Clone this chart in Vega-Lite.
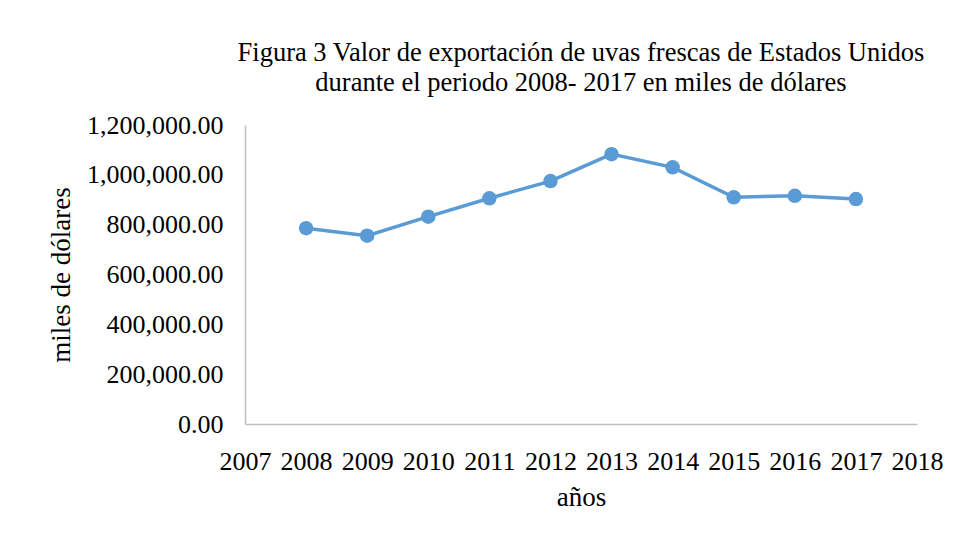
{
  "$schema": "https://vega.github.io/schema/vega-lite/v6.json",
  "width": 672,
  "height": 299,
  "autosize": {"type": "none"},
  "padding": {"left": 245, "top": 125, "right": 42, "bottom": 112},
  "background": "white",
  "title": {
    "text": ["Figura 3 Valor de exportación de uvas frescas de Estados Unidos", "durante el periodo 2008- 2017 en miles de dólares"],
    "font": "Liberation Serif",
    "fontSize": 26.5,
    "fontWeight": "normal",
    "color": "#000000",
    "anchor": "middle",
    "offset": 16,
    "lineHeight": 30
  },
  "data": {
    "values": [
      {"anio": 2008, "valor": 786000},
      {"anio": 2009, "valor": 756000},
      {"anio": 2010, "valor": 832000},
      {"anio": 2011, "valor": 906000},
      {"anio": 2012, "valor": 975000},
      {"anio": 2013, "valor": 1083000},
      {"anio": 2014, "valor": 1030000},
      {"anio": 2015, "valor": 910000},
      {"anio": 2016, "valor": 916000},
      {"anio": 2017, "valor": 903000}
    ]
  },
  "mark": {"type": "line", "color": "#5b9bd5", "strokeWidth": 3.5, "point": {"filled": true, "size": 210, "color": "#5b9bd5", "opacity": 1}},
  "encoding": {
    "x": {
      "field": "anio",
      "type": "quantitative",
      "scale": {"domain": [2007, 2018], "nice": false, "zero": false},
      "axis": {
        "title": "años",
        "values": [2007, 2008, 2009, 2010, 2011, 2012, 2013, 2014, 2015, 2016, 2017, 2018],
        "format": "d",
        "labelOverlap": false,
        "labelFlush": false,
        "grid": false,
        "ticks": false,
        "domainColor": "#bfbfbf",
        "domainWidth": 1.5,
        "labelPadding": 24,
        "titlePadding": 10
      }
    },
    "y": {
      "field": "valor",
      "type": "quantitative",
      "scale": {"domain": [0, 1200000], "nice": false},
      "axis": {
        "title": "miles de dólares",
        "values": [0, 200000, 400000, 600000, 800000, 1000000, 1200000],
        "format": ",.2f",
        "labelOverlap": false,
        "labelFlush": false,
        "grid": false,
        "ticks": false,
        "domainColor": "#bfbfbf",
        "domainWidth": 1.5,
        "labelPadding": 22,
        "titlePadding": 11
      }
    }
  },
  "config": {
    "view": {"stroke": null},
    "axis": {
      "labelFont": "Liberation Serif",
      "labelFontSize": 26,
      "labelColor": "#000000",
      "titleFont": "Liberation Serif",
      "titleFontSize": 27,
      "titleFontWeight": "normal",
      "titleColor": "#000000"
    }
  }
}
